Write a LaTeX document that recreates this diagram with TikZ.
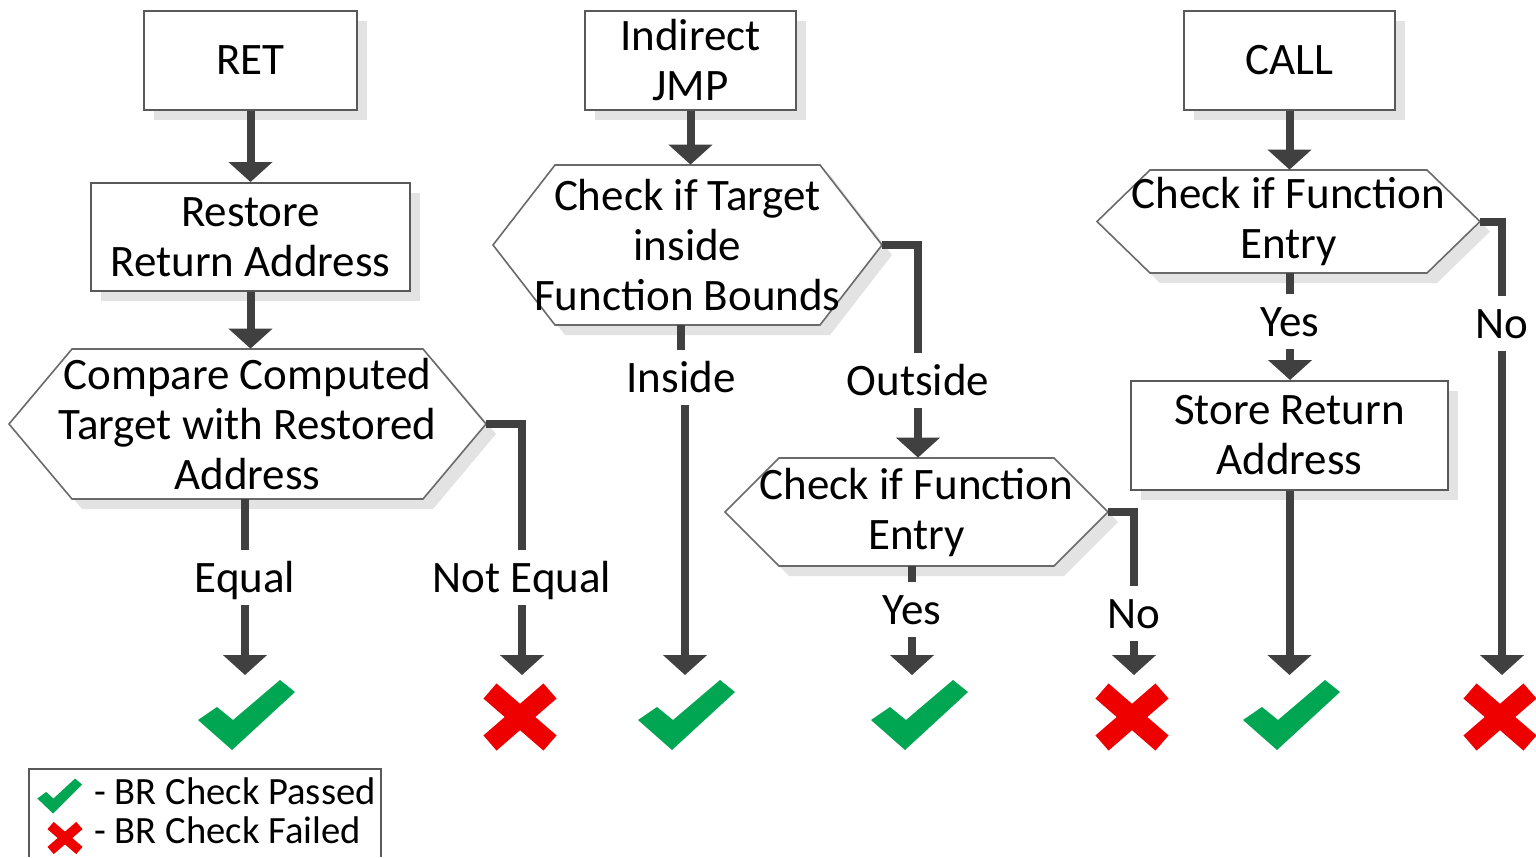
\documentclass[tikz,border=0pt]{standalone}
\usepackage{fontspec}
\setmainfont{Carlito}
\usetikzlibrary{arrows.meta,shadows,calc}

\definecolor{linegray}{HTML}{404040}
\definecolor{edgegray}{HTML}{595959}
\definecolor{hexgray}{HTML}{6A6A6A}
\definecolor{shadegray}{HTML}{E3E3E3}
\definecolor{okgreen}{HTML}{00A651}
\definecolor{kored}{HTML}{EE0000}

\newcommand\mainsize{\fontsize{22.5pt}{25pt}\selectfont}
\newcommand\legsize{\fontsize{19.3pt}{19.5pt}\selectfont}

% hexagonal decision node: name, cx, cy, half width, half height, inset, text
\newcommand\hexnode[7]{%
  \begin{scope}[shift={(#2,#3)}]
    \fill[shadegray] ({-#4+10},10) -- ({-#4+#6+10},{-#5+10}) -- ({#4-#6+10},{-#5+10})
      -- ({#4+10},10) -- ({#4-#6+10},{#5+10}) -- ({-#4+#6+10},{#5+10}) -- cycle;
    \draw[hexedge] (-#4,0) -- ({-#4+#6},-#5) -- ({#4-#6},-#5) -- (#4,0)
      -- ({#4-#6},#5) -- ({-#4+#6},#5) -- cycle;
  \end{scope}
  \node[hextext, minimum width=#4pt, minimum height=#5pt] (#1) at (#2,#3) {#7};}

\tikzset{
  box/.style={draw=edgegray, line width=1pt, fill=white, align=center,
    font=\mainsize, inner sep=0pt,
    drop shadow={shadow xshift=5pt, shadow yshift=-5pt, fill=shadegray, opacity=1}},
  hexedge/.style={draw=hexgray, line width=0.8pt, fill=white},
  hextext/.style={align=center, font=\mainsize, inner sep=0pt},
  lbl/.style={font=\mainsize, text height=14.4pt, text depth=0pt,
    inner xsep=2pt, inner ysep=6.5pt, anchor=base},
  legtext/.style={font=\legsize, anchor=base west, inner sep=0pt},
  conn/.style={draw=linegray, line width=4pt},
  arr/.style={conn, -{Triangle[width=21.5pt,length=10pt]}},
  okmark/.pic={
    \fill[okgreen] (-47,5) -- (-28,-8) -- (-12,5) -- (35,-35) -- (50,-23) -- (-13,35) -- cycle;
    \coordinate (-top) at (0,-40);},
  komark/.pic={
    \fill[kored] (36.55,18.44) -- (15.3,0) -- (36.55,-18.44) -- (23.45,-33.56)
      -- (0,-13.2) -- (-23.45,-33.56) -- (-36.55,-18.44) -- (-15.3,0)
      -- (-36.55,18.44) -- (-23.45,33.56) -- (0,13.2) -- (23.45,33.56) -- cycle;
    \coordinate (-top) at (0,-42);}
}

\begin{document}
\begin{tikzpicture}[x=0.5pt, y=-0.5pt]
  \useasboundingbox (0,0) rectangle (1536,857);
  \fill[white] (0,0) rectangle (1536,857);

  % instruction boxes
  \node[box, minimum width=106.5pt, minimum height=49.5pt] (ret) at (250.5,60.5) {RET};
  \node[box, minimum width=105.5pt, minimum height=49.5pt] (jmp) at (690.5,60.5) {Indirect\\JMP};
  \node[box, minimum width=105.5pt, minimum height=49.5pt] (call) at (1289.5,60.5) {CALL};

  % action boxes
  \node[box, minimum width=159.5pt, minimum height=54pt] (restore) at (250.5,237) {Restore\\Return Address};
  \node[box, minimum width=158.5pt, minimum height=54.5pt] (store) at (1289.5,435.5) {Store Return\\Address};

  % decisions
  \hexnode{h1}{247.5}{424}{238.5}{75}{63}{Compare Computed\\Target with Restored\\Address}
  \hexnode{h2}{687.5}{245}{194.5}{80}{62}{Check if Target\\inside\\Function Bounds}
  \hexnode{h3}{916.5}{512}{191.5}{54}{54}{Check if Function\\Entry}
  \hexnode{h4}{1288.5}{221.5}{191.5}{51.5}{53}{Check if Function\\Entry}

  % branch labels
  \node[lbl] (lEq) at (245,592) {Equal};
  \node[lbl] (lNe) at (522,592) {Not Equal};
  \node[lbl] (lIn) at (681,392) {Inside};
  \node[lbl] (lOut) at (918,395) {Outside};
  \node[lbl] (lYa) at (912,624) {Yes};
  \node[lbl] (lNa) at (1134,628) {No};
  \node[lbl] (lYb) at (1290,336) {Yes};
  \node[lbl] (lNb) at (1502,338) {No};

  % outcomes
  \pic (ok1) at (245,715) {okmark};
  \pic (ko1) at (520,717) {komark};
  \pic (ok2) at (685,715) {okmark};
  \pic (ok3) at (918,715) {okmark};
  \pic (ko2) at (1132,717) {komark};
  \pic (ok4) at (1290,715) {okmark};
  \pic (ko3) at (1500,717) {komark};

  % RET path
  \draw[arr] (ret.south) -- (restore.north);
  \draw[arr] (restore.south) -- (restore.south |- h1.north);
  \draw[conn] (lEq.north |- h1.south) -- (lEq.north);
  \draw[arr] (lEq.south) -- (lEq.south |- ok1-top);
  \draw[conn] (h1.east) -| (lNe.north);
  \draw[arr] (lNe.south) -- (lNe.south |- ko1-top);

  % indirect JMP path
  \draw[arr] (jmp.south) -- (jmp.south |- h2.north);
  \draw[conn] (lIn.north |- h2.south) -- (lIn.north);
  \draw[arr] (ok2-top |- lIn.south) -- (ok2-top);
  \draw[conn] (h2.east) -| (lOut.north);
  \draw[arr] (lOut.south) -- (lOut.south |- h3.north);
  \draw[conn] (lYa.north |- h3.south) -- (lYa.north);
  \draw[arr] (lYa.south) -- (lYa.south |- ok3-top);
  \draw[conn] (h3.east) -| (lNa.north);
  \draw[arr] (lNa.south) -- (lNa.south |- ko2-top);

  % CALL path
  \draw[arr] (call.south) -- (call.south |- h4.north);
  \draw[conn] (lYb.north |- h4.south) -- (lYb.north);
  \draw[arr] (lYb.south) -- (lYb.south |- store.north);
  \draw[arr] (store.south) -- (store.south |- ok4-top);
  \draw[conn] (h4.east) -| (lNb.north);
  \draw[arr] (lNb.south) -- (lNb.south |- ko3-top);

  % legend
  \draw[edgegray, line width=1pt] (29,857) -- (29,769) -- (381,769) -- (381,857);
  \pic[xscale=0.46, yscale=0.5] (lgok) at (59,796) {okmark};
  \pic[scale=0.48] (lgko) at (65,838) {komark};
  \node[legtext] (lgp) at (94,804) {- BR Check Passed};
  \node[legtext] (lgf) at (94,843) {- BR Check Failed};
\end{tikzpicture}
\end{document}
